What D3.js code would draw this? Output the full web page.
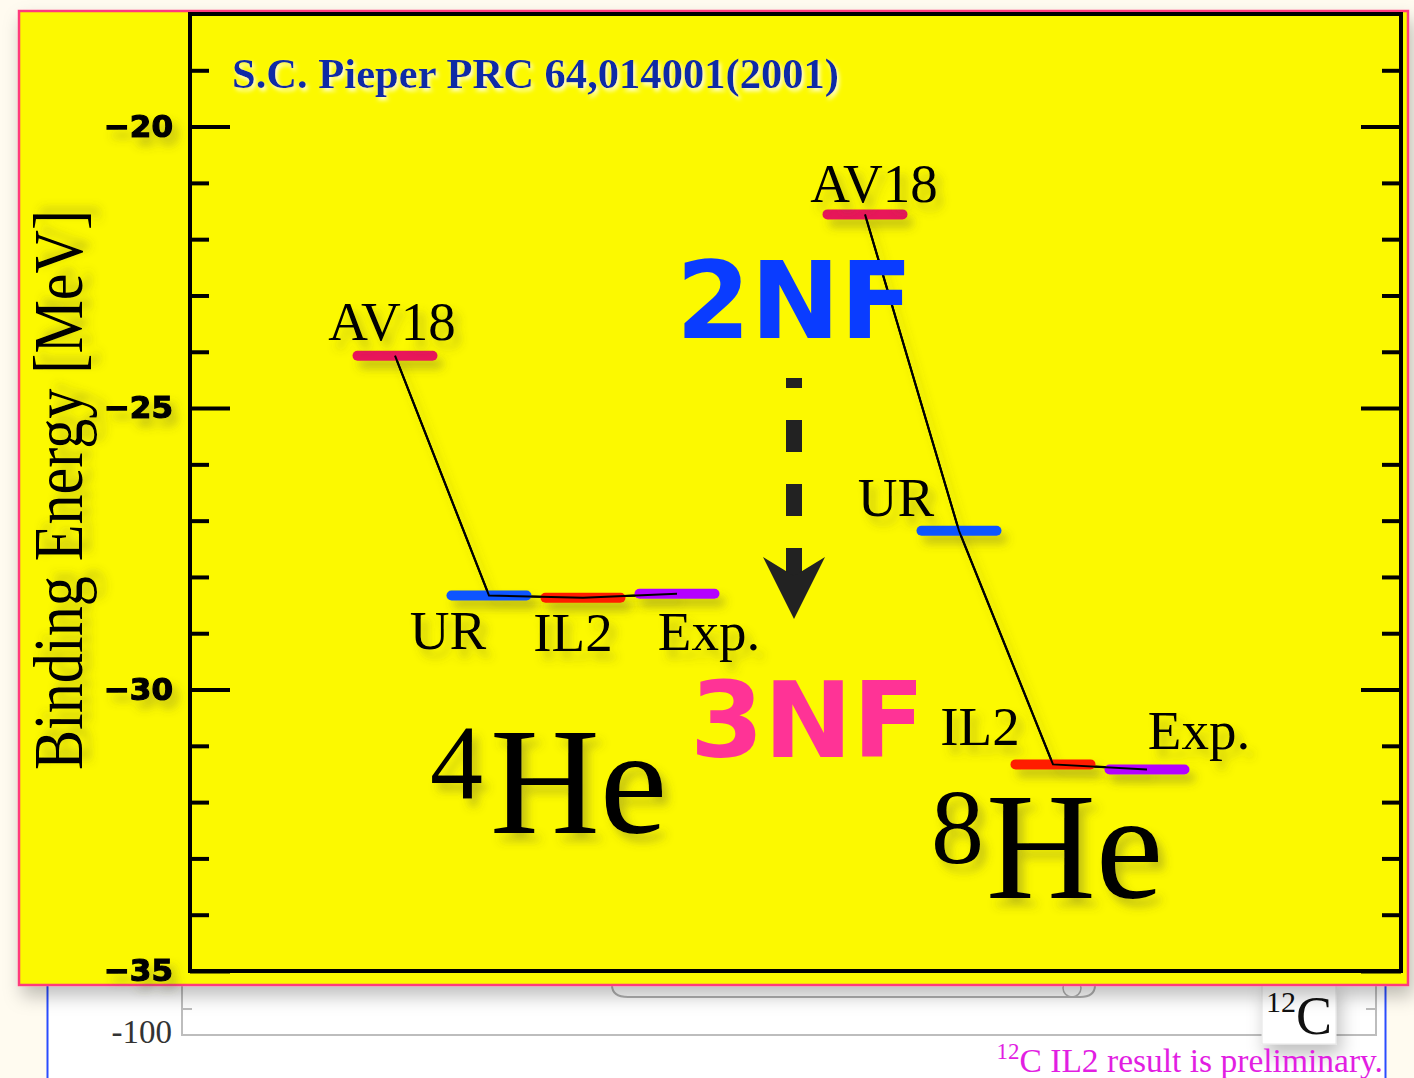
<!DOCTYPE html>
<html>
<head>
<meta charset="utf-8">
<script src="https://cdn.jsdelivr.net/npm/d3@7"></script>
<style>
  html, body { margin: 0; padding: 0; background: #fffbf0; }
  svg { display: block; }
</style>
</head>
<body>
<svg id="chart" width="1414" height="1078"></svg>
<script>
// ---------------- data ----------------
const models = ["AV18", "UR", "IL2", "Exp."];
const nuclei = ["4He", "8He"];
const he4Energies = [-24.07, -28.33, -28.37, -28.30];
const he8Energies = [-21.56, -27.18, -31.33, -31.42];
const majorTicks = [-35, -30, -25, -20];
const majorTickLabels = ["\u221235", "\u221230", "\u221225", "\u221220"];
const minorTicks = [-34, -33, -32, -31, -29, -28, -27, -26, -24, -23, -22, -21, -19];
const yDomain = [-35, -18];
const modelColors = ["#e8185a", "#0a55ff", "#ff1a00", "#b400ff"];

(function () {
// ---------------- setup ----------------
const svg = d3.select("#chart");
const defs = svg.append("defs");
function makeFilter(id) {
  return defs.append("filter").attr("id", id).attr("filterUnits", "userSpaceOnUse")
    .attr("x", -3000).attr("y", -3000).attr("width", 6000).attr("height", 6000);
}
makeFilter("shadow").append("feDropShadow").attr("dx", 6).attr("dy", 8).attr("stdDeviation", 5)
  .attr("flood-color", "#5a5a30").attr("flood-opacity", 0.35);
makeFilter("pshadow").append("feDropShadow").attr("dx", 4).attr("dy", 10).attr("stdDeviation", 9)
  .attr("flood-color", "#000").attr("flood-opacity", 0.25);
makeFilter("tshadow").append("feDropShadow").attr("dx", 2).attr("dy", 3).attr("stdDeviation", 2)
  .attr("flood-color", "#ffffff").attr("flood-opacity", 0.9);

const serif = "'Liberation Serif', 'Times New Roman', serif";

// ---------------- background lower figure ----------------
const low = svg.append("g");
low.append("rect").attr("x", 47).attr("y", 980).attr("width", 1338).attr("height", 98).attr("fill", "#ffffff");
low.append("line").attr("x1", 47.5).attr("x2", 47.5).attr("y1", 980).attr("y2", 1078).attr("stroke", "#2a4cff").attr("stroke-width", 2);
low.append("line").attr("x1", 1385.5).attr("x2", 1385.5).attr("y1", 980).attr("y2", 1078).attr("stroke", "#2a4cff").attr("stroke-width", 2);
low.append("path").attr("d", "M182,985 L182,1035 L1376,1035 L1376,985")
  .attr("fill", "none").attr("stroke", "#bdbdbd").attr("stroke-width", 2);
low.append("line").attr("x1", 182).attr("x2", 192).attr("y1", 1009).attr("y2", 1009).attr("stroke", "#bdbdbd").attr("stroke-width", 2);
low.append("line").attr("x1", 1366).attr("x2", 1376).attr("y1", 1009).attr("y2", 1009).attr("stroke", "#bdbdbd").attr("stroke-width", 2);
low.append("path").attr("d", "M612,985 Q612,997 628,997 L1080,997 Q1095,997 1095,985")
  .attr("fill", "none").attr("stroke", "#b0b0b0").attr("stroke-width", 2);
low.append("circle").attr("cx", 1072).attr("cy", 988).attr("r", 9).attr("fill", "none").attr("stroke", "#b0b0b0").attr("stroke-width", 1.5);
low.append("text").attr("x", 172).attr("y", 1043).attr("text-anchor", "end")
  .attr("font-family", serif).attr("font-size", 33).attr("fill", "#333").text("-100");
low.append("rect").attr("x", 1262).attr("y", 982).attr("width", 74).attr("height", 62)
  .attr("fill", "#fff").attr("stroke", "#e4e4e4").attr("filter", "url(#pshadow)");
const c12 = low.append("text").attr("x", 1266).attr("y", 1034).attr("font-family", serif).attr("fill", "#111");
c12.append("tspan").attr("font-size", 30).attr("dy", -22).text("12");
c12.append("tspan").attr("font-size", 54).attr("dy", 22).text("C");
const prelim = low.append("text").attr("x", 1383).attr("y", 1072).attr("text-anchor", "end")
  .attr("font-family", serif).attr("fill", "#e21ee2");
prelim.append("tspan").attr("font-size", 23).attr("dy", -13).text("12");
prelim.append("tspan").attr("font-size", 33.5).attr("dy", 13).text("C IL2 result is preliminary.");

// ---------------- yellow panel ----------------
svg.append("rect").attr("x", 19).attr("y", 11).attr("width", 1389).attr("height", 974)
  .attr("fill", "#fcf900").attr("stroke", "#ff3a7c").attr("stroke-width", 2.5)
  .attr("filter", "url(#pshadow)");

// plot frame bounds
const pLeft = 190, pRight = 1401, pTop = 14, pBottom = 971;
const y = d3.scaleLinear().domain(yDomain).range([pBottom, pTop]);
// slot scale: 4He slots 0..3, 8He slots 5..8
const x = d3.scaleLinear().domain([0, 8]).range([395, 1147]);
const barW = 85, barH = 10;

const plot = svg.append("g");

// frame
plot.append("rect").attr("x", pLeft).attr("y", pTop).attr("width", pRight - pLeft).attr("height", pBottom - pTop)
  .attr("fill", "none").attr("stroke", "#000").attr("stroke-width", 4);

// axes
const tickStyle = g => {
  g.select(".domain").remove();
  g.selectAll(".tick line").attr("stroke", "#000").attr("stroke-width", 4);
};
plot.append("g").attr("transform", `translate(${pLeft},0)`)
  .call(d3.axisLeft(y).tickValues(majorTicks).tickSizeInner(-40).tickSizeOuter(0).tickPadding(17)
    .tickFormat((d, i) => majorTickLabels[i]))
  .call(tickStyle)
  .call(g => g.selectAll(".tick text").attr("font-family", "'DejaVu Sans', sans-serif")
    .attr("font-weight", "bold").attr("font-size", 31).attr("fill", "#000")
    .attr("stroke", "#000").attr("stroke-width", 1.2)
    .attr("filter", "url(#shadow)"));
plot.append("g").attr("transform", `translate(${pLeft},0)`)
  .call(d3.axisLeft(y).tickValues(minorTicks).tickSizeInner(-19).tickSizeOuter(0).tickFormat(""))
  .call(tickStyle);
plot.append("g").attr("transform", `translate(${pRight},0)`)
  .call(d3.axisRight(y).tickValues(majorTicks).tickSizeInner(-40).tickSizeOuter(0).tickFormat(""))
  .call(tickStyle);
plot.append("g").attr("transform", `translate(${pRight},0)`)
  .call(d3.axisRight(y).tickValues(minorTicks).tickSizeInner(-19).tickSizeOuter(0).tickFormat(""))
  .call(tickStyle);

// axis title
plot.append("text").attr("transform", `translate(82,490) rotate(-90)`)
  .attr("text-anchor", "middle").attr("font-family", serif).attr("font-size", 70)
  .attr("textLength", 560).attr("lengthAdjust", "spacingAndGlyphs")
  .attr("fill", "#000").attr("filter", "url(#shadow)").text("Binding Energy [MeV]");

// title
plot.append("text").attr("x", 232).attr("y", 88).attr("font-family", serif)
  .attr("font-weight", "bold").attr("font-size", 43).attr("fill", "#0d2aa6")
  .attr("textLength", 607).attr("lengthAdjust", "spacingAndGlyphs")
  .attr("filter", "url(#tshadow)").text("S.C. Pieper PRC 64,014001(2001)");

// levels
const series = [
  { name: nuclei[0], offset: 0, values: he4Energies },
  { name: nuclei[1], offset: 5, values: he8Energies }
];

const line = d3.line().x(d => x(d.slot)).y(d => y(d.e));
series.forEach(s => {
  const pts = s.values.map((e, i) => ({ slot: s.offset + i, e }));
  plot.append("path").attr("d", line(pts)).attr("fill", "none")
    .attr("stroke", "#000").attr("stroke-width", 2.2).attr("filter", "url(#shadow)");
});

series.forEach(s => {
  plot.append("g").selectAll("rect").data(s.values).join("rect")
    .attr("x", (d, i) => x(s.offset + i) - barW / 2)
    .attr("width", barW)
    .attr("y", d => y(d) - barH / 2).attr("height", barH)
    .attr("rx", barH / 2)
    .attr("fill", (d, i) => modelColors[i])
    .attr("filter", "url(#shadow)");
});
series.forEach(s => {
  const pts = s.values.map((e, i) => ({ slot: s.offset + i, e }));
  plot.append("path").attr("d", line(pts)).attr("fill", "none")
    .attr("stroke", "#000").attr("stroke-width", 2);
});

const labelPos = {
  "4He": [[-3, -16], [-41, 53], [-10, 53], [32, 56]],
  "8He": [[9, -12], [-63, -15], [-73, -19], [52, -20]]
};
series.forEach(s => {
  plot.append("g").selectAll("text").data(s.values).join("text")
    .attr("x", (d, i) => x(s.offset + i) + labelPos[s.name][i][0])
    .attr("y", (d, i) => y(d) + labelPos[s.name][i][1])
    .attr("text-anchor", "middle").attr("font-family", serif).attr("font-size", 55)
    .attr("fill", "#000").attr("filter", "url(#shadow)")
    .text((d, i) => models[i]);
});

function nucleusLabel(xPos, yPos, mass, gap) {
  const t = plot.append("text").attr("x", xPos).attr("y", yPos).attr("font-family", serif)
    .attr("fill", "#000").attr("filter", "url(#shadow)");
  t.append("tspan").attr("font-size", 106).attr("dy", -35).text(mass);
  t.append("tspan").attr("font-size", 152).attr("dy", 35).attr("dx", gap).text("He");
}
nucleusLabel(430, 833, "4", 7);
nucleusLabel(931, 898, "8", 2);

plot.append("text").attr("x", 676).attr("y", 338).attr("font-family", "'DejaVu Sans', sans-serif")
  .attr("font-weight", "bold").attr("font-size", 107).attr("fill", "#0a3cff").text("2NF");
plot.append("text").attr("x", 690).attr("y", 757).attr("font-family", "'DejaVu Sans', sans-serif")
  .attr("font-weight", "bold").attr("font-size", 106).attr("fill", "#ff3396").text("3NF");
plot.append("line").attr("x1", 794).attr("x2", 794).attr("y1", 580).attr("y2", 378)
  .attr("stroke", "#222").attr("stroke-width", 16).attr("stroke-dasharray", "32,32");
plot.append("path").attr("d", "M794,619 L763,557 L794,576 L825,557 Z").attr("fill", "#222");
})();
</script>
</body>
</html>
